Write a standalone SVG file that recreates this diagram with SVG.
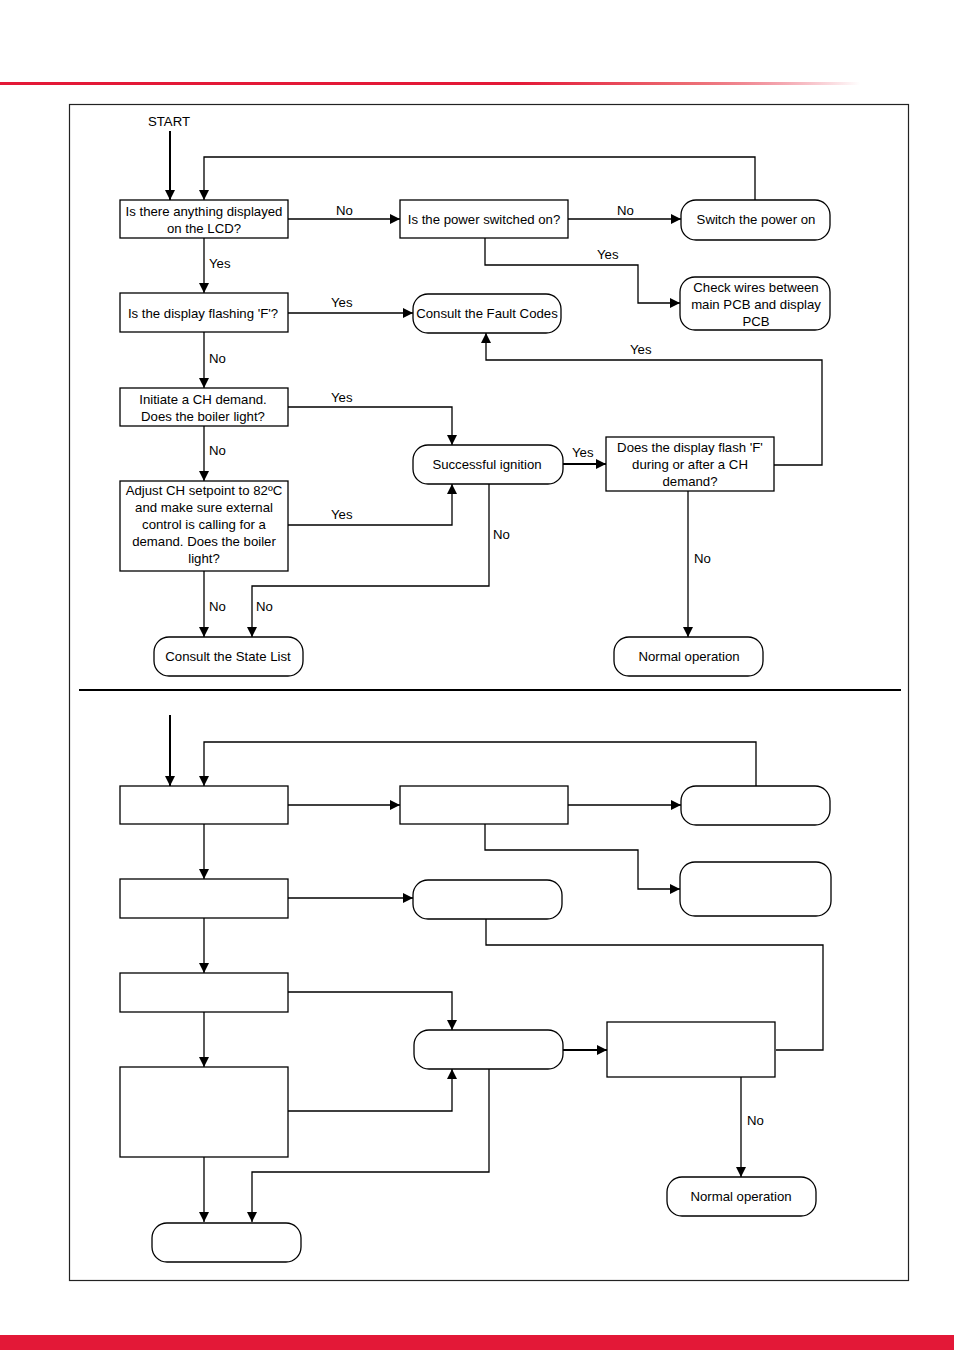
<svg xmlns="http://www.w3.org/2000/svg" width="954" height="1350" viewBox="0 0 954 1350">
<defs>
<linearGradient id="redfade" x1="0" y1="0" x2="1" y2="0">
<stop offset="0" stop-color="#e31837"/>
<stop offset="0.6" stop-color="#e31837"/>
<stop offset="0.8" stop-color="#ec6b72"/>
<stop offset="1" stop-color="#e31837" stop-opacity="0"/>
</linearGradient>
<marker id="ah" markerWidth="10" markerHeight="10" viewBox="0 0 10 10" refX="10" refY="5" orient="auto" markerUnits="userSpaceOnUse">
<path d="M0,0 L10,5 L0,10 Z" fill="#000"/>
</marker>
</defs>
<style>
.box{fill:#fff;stroke:#000;stroke-width:1.3}
.rbox{fill:#fff;stroke:#000;stroke-width:1.3}
.ln{fill:none;stroke:#000;stroke-width:1.3}
.lt{fill:none;stroke:#000;stroke-width:2}
.t{font-family:"Liberation Sans",Arial,sans-serif;font-size:13.2px;fill:#000;text-anchor:middle}
.l{font-family:"Liberation Sans",Arial,sans-serif;font-size:13.2px;fill:#000}
</style>
<rect width="954" height="1350" fill="#fff"/>
<rect x="0" y="82" width="860" height="3" fill="url(#redfade)"/>
<rect x="0" y="1335" width="954" height="15" fill="#e31837"/>
<rect x="69.5" y="104.5" width="839" height="1176" fill="none" stroke="#222" stroke-width="1.2"/>
<line x1="79" y1="690" x2="901" y2="690" stroke="#000" stroke-width="2"/>

<g id="connectors">
<!-- top -->
<line class="lt" x1="170" y1="131" x2="170" y2="200" marker-end="url(#ah)"/>
<polyline class="ln" points="755,200 755,157 204,157 204,200" marker-end="url(#ah)"/>
<line class="ln" x1="288" y1="219" x2="400" y2="219" marker-end="url(#ah)"/>
<line class="ln" x1="568" y1="219" x2="681" y2="219" marker-end="url(#ah)"/>
<polyline class="ln" points="485,238 485,265 638,265 638,303 680,303" marker-end="url(#ah)"/>
<line class="ln" x1="204" y1="238" x2="204" y2="293" marker-end="url(#ah)"/>
<line class="ln" x1="288" y1="313" x2="413" y2="313" marker-end="url(#ah)"/>
<line class="ln" x1="204" y1="332" x2="204" y2="388" marker-end="url(#ah)"/>
<polyline class="ln" points="288,407 452,407 452,445" marker-end="url(#ah)"/>
<line class="ln" x1="204" y1="426" x2="204" y2="481" marker-end="url(#ah)"/>
<polyline class="ln" points="288,525 452,525 452,484" marker-end="url(#ah)"/>
<line class="lt" x1="563" y1="464" x2="606" y2="464" marker-end="url(#ah)"/>
<polyline class="ln" points="774,465 822,465 822,360 486,360 486,333" marker-end="url(#ah)"/>
<line class="ln" x1="688" y1="491" x2="688" y2="637" marker-end="url(#ah)"/>
<polyline class="ln" points="489,484 489,586 252,586 252,637" marker-end="url(#ah)"/>
<line class="ln" x1="204" y1="571" x2="204" y2="637" marker-end="url(#ah)"/>
<!-- bottom -->
<line class="lt" x1="170" y1="715" x2="170" y2="786" marker-end="url(#ah)"/>
<polyline class="ln" points="756,786 756,742 204,742 204,786" marker-end="url(#ah)"/>
<line class="ln" x1="288" y1="805" x2="400" y2="805" marker-end="url(#ah)"/>
<line class="ln" x1="568" y1="805" x2="681" y2="805" marker-end="url(#ah)"/>
<polyline class="ln" points="485,824 485,850 638,850 638,889 680,889" marker-end="url(#ah)"/>
<line class="ln" x1="204" y1="824" x2="204" y2="879" marker-end="url(#ah)"/>
<line class="ln" x1="288" y1="898" x2="413" y2="898" marker-end="url(#ah)"/>
<polyline class="ln" points="486,919 486,945 823,945 823,1050 776,1050"/>
<line class="ln" x1="204" y1="918" x2="204" y2="973" marker-end="url(#ah)"/>
<polyline class="ln" points="288,992 452,992 452,1030" marker-end="url(#ah)"/>
<line class="ln" x1="204" y1="1012" x2="204" y2="1067" marker-end="url(#ah)"/>
<polyline class="ln" points="288,1111 452,1111 452,1069" marker-end="url(#ah)"/>
<line class="lt" x1="563" y1="1050" x2="607" y2="1050" marker-end="url(#ah)"/>
<line class="ln" x1="741" y1="1077" x2="741" y2="1177" marker-end="url(#ah)"/>
<polyline class="ln" points="489,1069 489,1172 252,1172 252,1222" marker-end="url(#ah)"/>
<line class="ln" x1="204" y1="1157" x2="204" y2="1222" marker-end="url(#ah)"/>
</g>

<g id="labels">
<text class="l" x="148" y="126">START</text>
<text class="l" x="336" y="215">No</text>
<text class="l" x="617" y="215">No</text>
<text class="l" x="597" y="259">Yes</text>
<text class="l" x="209" y="268">Yes</text>
<text class="l" x="331" y="307">Yes</text>
<text class="l" x="209" y="363">No</text>
<text class="l" x="331" y="402">Yes</text>
<text class="l" x="209" y="455">No</text>
<text class="l" x="630" y="354">Yes</text>
<text class="l" x="572" y="457">Yes</text>
<text class="l" x="331" y="519">Yes</text>
<text class="l" x="493" y="539">No</text>
<text class="l" x="694" y="563">No</text>
<text class="l" x="209" y="611">No</text>
<text class="l" x="256" y="611">No</text>
<text class="l" x="747" y="1125">No</text>
</g>

<g id="n1"><rect class="box" x="120" y="200" width="168" height="38"/><text class="t" x="204" y="216">Is there anything displayed</text><text class="t" x="204" y="233">on the LCD?</text></g>
<g id="n2"><rect class="box" x="400" y="200" width="168" height="38"/><text class="t" x="484" y="224">Is the power switched on?</text></g>
<g id="n3"><rect class="rbox" x="681" y="200" width="149" height="40" rx="15"/><text class="t" x="756" y="224">Switch the power on</text></g>
<g id="n4"><rect class="rbox" x="680" y="277" width="150" height="53" rx="15"/><text class="t" x="756" y="292">Check wires between</text><text class="t" x="756" y="309">main PCB and display</text><text class="t" x="756" y="326">PCB</text></g>
<g id="n5"><rect class="box" x="120" y="293" width="168" height="39"/><text class="t" x="203" y="318">Is the display flashing 'F'?</text></g>
<g id="n6"><rect class="rbox" x="413" y="294" width="148" height="39" rx="15"/><text class="t" x="487" y="318">Consult the Fault Codes</text></g>
<g id="n7"><rect class="box" x="120" y="388" width="168" height="38"/><text class="t" x="203" y="404">Initiate a CH demand.</text><text class="t" x="203" y="421">Does the boiler light?</text></g>
<g id="n8"><rect class="rbox" x="413" y="445" width="150" height="39" rx="15"/><text class="t" x="487" y="469">Successful ignition</text></g>
<g id="n9"><rect class="box" x="606" y="437" width="168" height="54"/><text class="t" x="690" y="452">Does the display flash 'F'</text><text class="t" x="690" y="469">during or after a CH</text><text class="t" x="690" y="486">demand?</text></g>
<g id="n10"><rect class="box" x="120" y="481" width="168" height="90"/><text class="t" x="204" y="495">Adjust CH setpoint to 82ºC</text><text class="t" x="204" y="512">and make sure external</text><text class="t" x="204" y="529">control is calling for a</text><text class="t" x="204" y="546">demand. Does the boiler</text><text class="t" x="204" y="563">light?</text></g>
<g id="n11"><rect class="rbox" x="154" y="637" width="149" height="39" rx="15"/><text class="t" x="228" y="661">Consult the State List</text></g>
<g id="n12"><rect class="rbox" x="614" y="637" width="149" height="39" rx="15"/><text class="t" x="689" y="661">Normal operation</text></g>

<g id="b1"><rect class="box" x="120" y="786" width="168" height="38"/></g>
<g id="b2"><rect class="box" x="400" y="786" width="168" height="38"/></g>
<g id="b3"><rect class="rbox" x="681" y="786" width="149" height="39" rx="15"/></g>
<g id="b4"><rect class="rbox" x="680" y="862" width="151" height="54" rx="15"/></g>
<g id="b5"><rect class="box" x="120" y="879" width="168" height="39"/></g>
<g id="b6"><rect class="rbox" x="413" y="880" width="149" height="39" rx="15"/></g>
<g id="b7"><rect class="box" x="120" y="973" width="168" height="39"/></g>
<g id="b8"><rect class="rbox" x="414" y="1030" width="149" height="39" rx="15"/></g>
<g id="b9"><rect class="box" x="607" y="1022" width="168" height="55"/></g>
<g id="b10"><rect class="box" x="120" y="1067" width="168" height="90"/></g>
<g id="b11"><rect class="rbox" x="152" y="1223" width="149" height="39" rx="15"/></g>
<g id="b12"><rect class="rbox" x="667" y="1177" width="149" height="39" rx="15"/><text class="t" x="741" y="1201">Normal operation</text></g>
</svg>
